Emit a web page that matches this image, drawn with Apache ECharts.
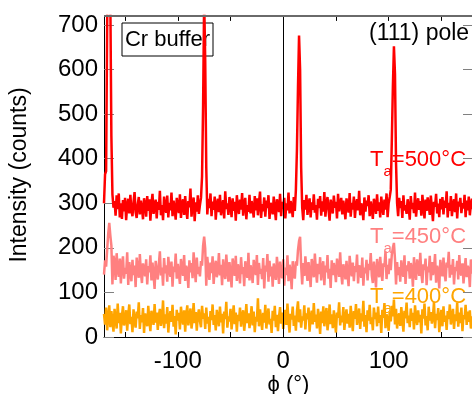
<!DOCTYPE html>
<html>
<head>
<meta charset="utf-8">
<script src="https://cdn.jsdelivr.net/npm/echarts@6/dist/echarts.min.js"></script>
<style>html,body{margin:0;padding:0;background:#fff}#c{width:472px;height:394px}</style>
</head>
<body>
<div id="c"></div>
<script>
// phi sampling (degrees)
const PHI_START = -170;
const PHI_STEP = 1;

// Ta = 500 °C (red), phi = -170 ... 180
const red500 = [
300,365,372,700,950,900,760,450,320,290,
305,272,318,287,322,268,300,265,307,282,
312,262,295,310,277,319,284,271,302,325,
280,267,297,314,275,306,289,264,311,298,
270,316,283,309,261,299,321,276,293,308,
266,303,285,328,273,296,262,315,290,279,
317,268,301,284,324,271,306,288,263,312,
294,278,320,267,299,309,274,316,286,265,
305,291,333,270,297,313,260,302,281,318,
276,296,312,360,520,760,620,380,275,310,
289,322,271,304,285,315,263,298,310,280,
319,273,292,307,266,327,287,300,274,314,
295,269,311,283,303,261,318,290,276,308,
286,323,272,299,312,264,296,281,319,277,
305,290,268,316,284,311,273,302,326,267,
298,282,313,270,306,289,318,265,301,293,
275,315,287,262,309,296,280,321,271,303,
288,312,266,300,284,324,277,305,291,269,
314,283,330,420,560,676,600,380,290,262,
307,286,319,274,297,311,268,302,285,320,
279,296,263,310,289,316,272,304,281,325,
270,299,314,285,261,308,293,277,317,290,
303,266,321,282,298,312,275,306,288,264,
311,295,279,323,270,301,286,315,267,297,
309,284,328,273,300,290,262,313,281,306,
294,318,271,304,287,265,310,299,276,320,
283,302,268,315,291,274,308,286,322,269,
300,314,330,440,560,652,590,390,300,271,
312,289,305,267,318,284,296,276,309,292,
263,316,287,301,278,324,270,298,311,285,
305,272,319,290,266,308,283,313,296,274,
317,288,260,303,292,321,277,299,269,310,
286,314,275,306,290,327,268,301,283,316,
271,297,309,280,322,266,304,293,312,278,
300,288,319,269,306,284,315,273,298,310,
287];

// Ta = 450 °C (pink)
const pink450 = [
140,172,158,196,232,256,228,205,118,182,
170,128,188,150,135,176,120,162,181,131,
155,142,190,117,168,147,125,173,139,160,
112,178,150,133,186,144,121,165,152,136,
174,118,159,145,183,127,167,140,108,171,
148,129,163,192,138,156,115,177,143,161,
124,180,151,135,169,113,158,146,187,131,
164,142,119,175,153,137,184,126,160,149,
110,172,145,166,132,190,154,123,178,141,
157,136,170,160,205,225,198,115,180,150,
128,167,143,181,119,155,171,134,149,188,
138,162,116,174,147,130,185,152,124,168,
144,111,176,159,137,182,126,163,150,120,
179,141,157,114,170,148,133,189,127,161,
146,121,173,155,139,184,117,166,142,153,
130,177,109,160,147,186,124,171,136,158,
113,165,145,128,180,151,119,169,140,132,
174,115,156,139,183,125,162,148,107,170,
143,131,170,160,195,215,225,160,118,166,
137,181,152,126,168,144,112,175,158,134,
187,149,122,164,141,179,127,155,170,116,
160,145,184,131,153,110,172,139,166,148,
123,176,157,135,190,142,118,163,151,129,
171,140,114,182,154,136,167,125,159,146,
185,120,161,149,133,178,115,156,143,173,
127,164,150,188,138,121,169,145,111,175,
153,134,180,147,126,165,158,192,130,162,
141,176,150,185,200,211,175,118,168,139,
157,124,172,146,135,183,119,161,148,170,
131,166,152,113,179,144,128,174,155,137,
189,142,121,163,150,176,116,158,145,182,
127,168,139,154,186,122,160,147,109,173,
151,136,178,143,125,167,156,191,133,162,
140,175,118,157,148,171,129,184,145,138,
165,120,153,177,134,160,149,112,174,142,
158];

// Ta = 400 °C (orange)
const orange400 = [
52,28,66,15,44,71,22,58,35,12,
63,40,19,75,31,54,8,47,69,26,
38,60,14,50,73,29,45,11,62,36,
21,57,42,78,18,49,33,65,9,53,
41,24,70,37,13,59,46,27,74,32,
55,16,48,63,25,39,82,20,51,30,
67,10,43,58,34,72,23,47,6,61,
37,54,17,68,44,28,60,12,50,71,
26,45,64,19,39,76,31,56,14,48,
62,35,22,70,41,53,18,66,30,45,
11,58,38,73,27,49,15,61,42,24,
68,33,52,8,57,40,79,21,46,35,
63,17,44,71,29,55,12,50,36,66,
23,48,60,14,39,74,31,53,20,43,
69,26,57,11,45,35,87,24,62,40,
16,54,32,72,19,47,64,28,41,9,
59,37,70,22,50,13,45,67,30,55,
18,43,61,27,75,36,10,52,39,68,
25,48,14,58,80,33,62,21,46,37,
71,17,53,40,66,12,44,59,28,76,
34,50,19,63,42,7,57,31,69,24,
47,65,15,38,73,29,51,20,60,36,
10,55,43,78,26,48,33,67,16,45,
62,30,52,21,70,39,13,58,41,74,
27,46,64,18,53,35,81,23,49,11,
60,37,72,29,44,15,66,40,55,24,
68,32,49,9,61,43,76,20,51,38,
14,57,35,70,46,84,28,63,19,45,
53,25,67,39,12,59,42,77,31,48,
22,64,36,54,17,71,44,27,60,33,
50,8,62,41,75,26,47,15,68,37,
56,30,45,79,20,52,38,65,11,43,
61,24,69,34,48,16,58,40,73,28,
45,63,18,51,36,77,23,55,31,66,
13,49,40,72,27,57,34,60,19,46,
39];

const X_TICK_LABELS = [-100, 0, 100];
const X_TOP_TICKS = [-150, -100, -50, 0, 50, 100, 150];
const Y_TICK_LABELS = [0, 100, 200, 300, 400, 500, 600, 700];
const X_MIN = -170, X_MAX = 180;
const Y_MIN = 0, Y_MAX = 720;
const TOP_TICK_LEN = 11; // in y units (~5 px)

const FONT = '"Liberation Sans", Arial, Helvetica, sans-serif';
const phi = red500.map((_, i) => PHI_START + i * PHI_STEP);
const toPairs = arr => arr.map((v, i) => [phi[i], v]);

const chart = echarts.init(document.getElementById('c'), null, {renderer: 'canvas'});

function taLabel(y, temp, color) {
  return {
    type: 'text', x: 370, y: y, z: 100,
    style: {
      text: '{m|T}{s|a}{m|=' + temp + '°C}',
      fill: color,
      rich: {
        m: {fontSize: 22, fontFamily: FONT, lineHeight: 22, verticalAlign: 'top', fill: color},
        s: {fontSize: 15, fontFamily: FONT, lineHeight: 15, verticalAlign: 'top', padding: [15, 0, 0, 0], fill: color}
      }
    }
  };
}

const LINE_W = 2.5;
const FRAME = '#6a6a6a';

const topFrameData = [[{coord: [X_MIN, Y_MAX]}, {coord: [X_MAX, Y_MAX]}]];
const topTickData = X_TOP_TICKS.map(v => [{coord: [v, Y_MAX]}, {coord: [v, Y_MAX - TOP_TICK_LEN]}]);

const option = {
  animation: false,
  backgroundColor: '#fff',
  grid: {left: 104, top: 16, right: -1, bottom: 57, containLabel: false, outerBoundsMode: 'none'},
  xAxis: [{
    type: 'value', position: 'bottom', min: X_MIN, max: X_MAX, splitNumber: 7,
    axisLine: {show: true, onZero: false, lineStyle: {color: '#000', width: 1}},
    axisTick: {show: true, inside: true, length: 5, lineStyle: {color: '#000'}},
    splitLine: {show: false},
    axisLabel: {
      fontSize: 24, fontFamily: FONT, color: '#000', margin: 12,
      formatter: v => X_TICK_LABELS.includes(v) ? String(v) : ''
    },
    name: 'ϕ (°)', nameLocation: 'middle', nameGap: 37, nameMoveOverlap: false,
    nameTextStyle: {fontSize: 22, fontFamily: FONT, color: '#000'}
  }],
  yAxis: [{
    type: 'value', position: 'left', min: Y_MIN, max: Y_MAX, interval: 100,
    axisLine: {show: true, onZero: false, lineStyle: {color: '#000', width: 1}},
    axisTick: {show: true, inside: true, length: 10, lineStyle: {color: '#808080'}},
    splitLine: {show: false},
    axisLabel: {
      fontSize: 24, fontFamily: FONT, color: '#000', margin: 6, padding: [5, 0, 0, 0],
      formatter: v => Y_TICK_LABELS.includes(v) ? String(v) : ''
    }
  }, {
    type: 'value', position: 'right', min: Y_MIN, max: Y_MAX, interval: 100,
    axisLine: {show: false, onZero: false},
    axisTick: {show: true, inside: true, length: 10, lineStyle: {color: '#808080'}},
    splitLine: {show: false},
    axisLabel: {show: false}
  }],
  series: [{
    name: 'Ta=400°C', type: 'line', data: toPairs(orange400),
    showSymbol: false, symbol: 'none', clip: true, z: 2,
    lineStyle: {color: '#ffa500', width: LINE_W}, itemStyle: {color: '#ffa500'},
    markLine: {
      silent: true, symbol: ['none', 'none'], label: {show: false},
      lineStyle: {color: '#000', width: 1, type: 'solid'},
      data: [{xAxis: 0}]
    }
  }, {
    name: 'Ta=450°C', type: 'line', data: toPairs(pink450),
    showSymbol: false, symbol: 'none', clip: true, z: 3,
    lineStyle: {color: '#ff8080', width: LINE_W}, itemStyle: {color: '#ff8080'},
    markLine: {
      silent: true, symbol: ['none', 'none'], label: {show: false},
      lineStyle: {color: '#000', width: 1, type: 'solid'},
      data: topTickData
    }
  }, {
    name: 'Ta=500°C', type: 'line', data: toPairs(red500),
    showSymbol: false, symbol: 'none', clip: true, z: 4,
    lineStyle: {color: '#ff0000', width: LINE_W}, itemStyle: {color: '#ff0000'},
    markLine: {
      silent: true, symbol: ['none', 'none'], label: {show: false}, z: 10,
      lineStyle: {color: FRAME, width: 2, type: 'solid'},
      data: topFrameData
    }
  }],
  graphic: [
    {
      type: 'text', z: 100,
      rotation: Math.PI / 2,
      x: 20, y: 175,
      style: {text: 'Intensity (counts)', fontSize: 23, fontFamily: FONT, fill: '#000', align: 'center', verticalAlign: 'middle'}
    },
    {
      type: 'group', x: 122, y: 23, z: 100,
      children: [
        {type: 'rect', shape: {x: 0, y: 0, width: 91, height: 33}, style: {fill: '#fff', stroke: '#000', lineWidth: 1}},
        {type: 'text', x: 45.5, y: 17, style: {text: 'Cr buffer', fontSize: 22, fontFamily: FONT, fill: '#000', align: 'center', verticalAlign: 'middle'}}
      ]
    },
    {
      type: 'text', x: 369, y: 22, z: 100,
      style: {text: '(111) pole figure', fontSize: 23, fontFamily: FONT, fill: '#000'}
    },
    taLabel(149, 500, '#ff0000'),
    taLabel(226, 450, '#ff8080'),
    taLabel(286, 400, '#ffa500')
  ]
};
chart.setOption(option);
</script>
</body>
</html>
